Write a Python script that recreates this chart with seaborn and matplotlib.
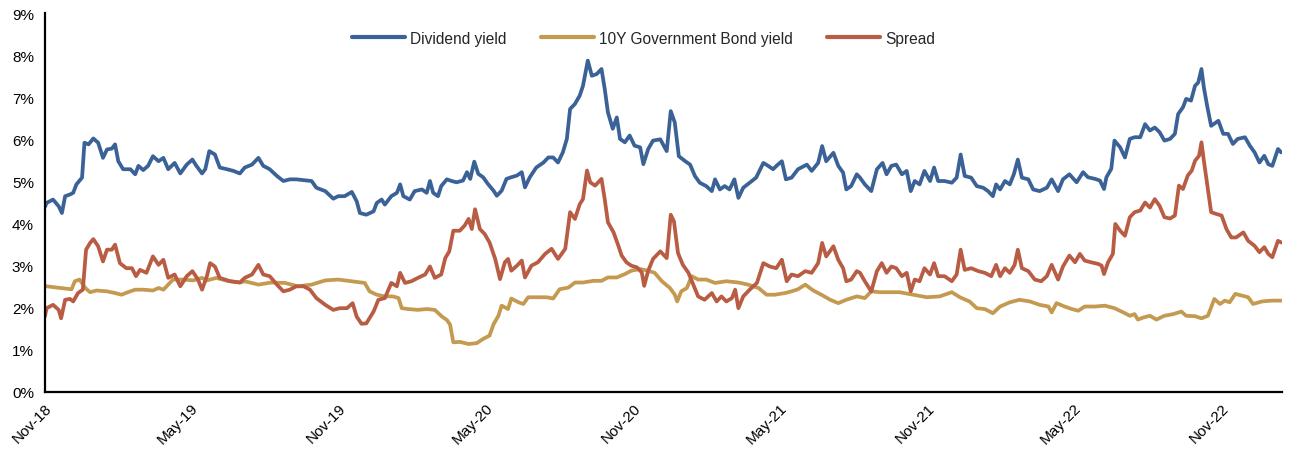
import matplotlib
matplotlib.use("Agg")
import matplotlib.pyplot as plt
import matplotlib.dates as mdates
from matplotlib.ticker import PercentFormatter, MultipleLocator
import numpy as np
import pandas as pd
import seaborn as sns

# ---------------- data (days since 2018-11-01, value in %) ----------------
start_date = "2018-11-01"
end_days = 1536

div_days = [0, 2, 10, 17, 21, 25, 31, 35, 39, 46, 49, 54, 60, 66, 72, 77, 83, 87, 91, 97,
            106, 112, 116, 122, 128, 134, 141, 147, 153, 161, 168, 176, 183, 188, 195, 199, 204, 211, 217, 226,
            234, 242, 248, 257, 265, 271, 279, 288, 296, 304, 312, 321, 331, 337, 348, 358, 364, 372, 381, 387,
            391, 399, 408, 412, 418, 422, 430, 437, 441, 445, 453, 459, 468, 474, 478, 482, 488, 492, 499, 505,
            511, 519, 524, 528, 533, 538, 544, 550, 557, 561, 567, 573, 579, 586, 592, 596, 602, 610, 619, 625,
            631, 637, 643, 648, 652, 658, 664, 668, 672, 674, 679, 685, 691, 695, 699, 705, 710, 714, 720, 726,
            732, 739, 743, 749, 755, 764, 772, 777, 782, 787, 795, 801, 807, 813, 821, 828, 832, 838, 844, 850,
            856, 861, 867, 875, 883, 892, 898, 904, 910, 915, 920, 927, 935, 946, 952, 960, 965, 970, 979, 985,
            991, 995, 1001, 1008, 1012, 1018, 1026, 1033, 1040, 1045, 1051, 1057, 1064, 1070, 1075, 1080, 1086, 1092, 1099, 1104,
            1109, 1117, 1126, 1132, 1137, 1142, 1150, 1157, 1165, 1171, 1177, 1181, 1186, 1192, 1198, 1203, 1208, 1213, 1221, 1227,
            1235, 1244, 1250, 1258, 1264, 1272, 1281, 1289, 1295, 1304, 1310, 1315, 1318, 1324, 1328, 1335, 1341, 1347, 1353, 1360,
            1366, 1372, 1378, 1384, 1390, 1397, 1403, 1407, 1413, 1417, 1423, 1428, 1432, 1436, 1439, 1443, 1448, 1457, 1463, 1469,
            1475, 1481, 1490, 1496, 1502, 1508, 1514, 1519, 1524, 1531, 1535]
div_vals = [4.40, 4.49, 4.57, 4.41, 4.25, 4.65, 4.69, 4.73, 4.93, 5.09, 5.92, 5.88, 6.02, 5.92, 5.56, 5.76, 5.78, 5.88, 5.48, 5.29,
            5.29, 5.17, 5.37, 5.27, 5.37, 5.60, 5.48, 5.56, 5.29, 5.44, 5.19, 5.40, 5.52, 5.37, 5.19, 5.29, 5.72, 5.64, 5.33, 5.29,
            5.25, 5.19, 5.33, 5.40, 5.56, 5.37, 5.29, 5.13, 5.01, 5.05, 5.05, 5.03, 5.01, 4.85, 4.77, 4.59, 4.65, 4.65, 4.75, 4.53,
            4.25, 4.21, 4.29, 4.49, 4.57, 4.45, 4.65, 4.73, 4.93, 4.65, 4.57, 4.77, 4.81, 4.73, 5.01, 4.73, 4.65, 4.89, 5.05, 5.01,
            4.98, 5.02, 5.22, 5.06, 5.47, 5.18, 5.10, 4.94, 4.78, 4.66, 4.78, 5.06, 5.10, 5.14, 5.22, 4.86, 5.10, 5.33, 5.45, 5.57,
            5.57, 5.45, 5.69, 6.01, 6.72, 6.84, 7.04, 7.27, 7.67, 7.87, 7.51, 7.55, 7.67, 7.20, 6.64, 6.25, 6.52, 6.01, 5.93, 6.09,
            5.85, 5.81, 5.41, 5.77, 5.97, 6.00, 5.72, 6.67, 6.40, 5.60, 5.48, 5.40, 5.13, 4.97, 4.89, 4.77, 5.05, 4.81, 4.89, 4.81,
            5.05, 4.61, 4.85, 4.97, 5.09, 5.44, 5.37, 5.29, 5.40, 5.48, 5.05, 5.09, 5.29, 5.40, 5.25, 5.44, 5.84, 5.48, 5.68, 5.37,
            5.21, 4.81, 4.89, 5.17, 5.09, 4.93, 4.77, 5.29, 5.44, 5.17, 5.37, 5.40, 5.17, 5.25, 4.77, 5.01, 4.93, 5.25, 5.01, 5.33,
            5.01, 5.01, 4.97, 5.09, 5.64, 5.13, 5.09, 4.89, 4.85, 4.77, 4.65, 4.93, 4.81, 5.01, 4.93, 5.17, 5.52, 5.09, 5.05, 4.81,
            4.77, 4.85, 5.05, 4.77, 5.05, 5.17, 4.98, 5.22, 5.10, 5.06, 5.02, 4.82, 5.10, 5.30, 5.97, 5.81, 5.57, 6.01, 6.05, 6.05,
            6.36, 6.21, 6.28, 6.17, 5.97, 6.01, 6.13, 6.60, 6.76, 6.96, 6.92, 7.27, 7.35, 7.67, 7.23, 6.80, 6.32, 6.44, 6.13, 6.13,
            5.89, 6.01, 6.05, 5.85, 5.69, 5.45, 5.61, 5.41, 5.37, 5.77, 5.69]

bond_days = [0, 2, 19, 33, 37, 43, 50, 56, 64, 77, 87, 95, 103, 112, 122, 134, 141, 147, 153, 159,
             172, 184, 195, 201, 213, 226, 242, 248, 265, 281, 298, 314, 331, 348, 364, 381, 397, 403, 412, 422,
             432, 439, 443, 451, 463, 474, 484, 493, 499, 503, 507, 515, 526, 536, 544, 552, 557, 563, 567, 575,
             579, 588, 594, 600, 610, 623, 631, 639, 650, 658, 668, 681, 691, 699, 710, 720, 728, 739, 749, 757,
             766, 776, 782, 785, 790, 797, 803, 811, 821, 832, 846, 861, 873, 886, 896, 906, 919, 927, 935, 944,
             954, 964, 975, 985, 995, 1008, 1018, 1026, 1037, 1049, 1061, 1078, 1095, 1111, 1126, 1136, 1148, 1157, 1167, 1177,
             1186, 1198, 1210, 1223, 1235, 1246, 1250, 1256, 1266, 1275, 1283, 1291, 1304, 1316, 1328, 1339, 1347, 1353, 1357, 1364,
             1372, 1380, 1390, 1401, 1411, 1417, 1428, 1436, 1444, 1452, 1459, 1465, 1471, 1478, 1486, 1494, 1500, 1511, 1523, 1535]
bond_vals = [2.52, 2.51, 2.47, 2.44, 2.63, 2.67, 2.47, 2.37, 2.41, 2.39, 2.35, 2.31, 2.37, 2.43, 2.43, 2.41, 2.47, 2.43, 2.55, 2.67,
             2.67, 2.65, 2.71, 2.65, 2.71, 2.64, 2.60, 2.63, 2.55, 2.60, 2.59, 2.51, 2.55, 2.65, 2.67, 2.63, 2.59, 2.39, 2.31, 2.27,
             2.27, 2.23, 1.99, 1.97, 1.95, 1.97, 1.95, 1.79, 1.71, 1.60, 1.18, 1.19, 1.14, 1.16, 1.26, 1.34, 1.61, 1.81, 2.05, 1.97,
             2.22, 2.13, 2.09, 2.25, 2.25, 2.25, 2.22, 2.44, 2.48, 2.60, 2.60, 2.64, 2.64, 2.72, 2.72, 2.80, 2.88, 2.92, 2.88, 2.83,
             2.63, 2.47, 2.31, 2.15, 2.39, 2.47, 2.75, 2.67, 2.67, 2.59, 2.63, 2.60, 2.55, 2.47, 2.31, 2.31, 2.35, 2.39, 2.44, 2.55,
             2.41, 2.31, 2.19, 2.11, 2.19, 2.27, 2.23, 2.39, 2.37, 2.37, 2.37, 2.31, 2.25, 2.27, 2.37, 2.25, 2.15, 1.99, 1.97, 1.87,
             2.03, 2.13, 2.19, 2.15, 2.07, 2.03, 1.89, 2.11, 2.03, 1.97, 1.93, 2.03, 2.03, 2.05, 1.99, 1.89, 1.81, 1.85, 1.72, 1.77,
             1.81, 1.72, 1.81, 1.85, 1.91, 1.81, 1.80, 1.75, 1.81, 2.21, 2.09, 2.17, 2.13, 2.33, 2.29, 2.25, 2.09, 2.15, 2.17, 2.17]

spread_days = [0, 2, 10, 17, 20, 25, 31, 35, 41, 47, 51, 56, 60, 66, 72, 77, 83, 87, 93, 101,
               108, 113, 118, 126, 134, 141, 147, 153, 161, 168, 176, 183, 190, 195, 201, 205, 211, 217, 230, 242,
               248, 257, 265, 271, 279, 288, 296, 304, 312, 321, 329, 337, 348, 358, 366, 375, 382, 387, 393, 399,
               408, 414, 422, 430, 437, 441, 447, 455, 463, 472, 478, 484, 492, 497, 502, 507, 515, 521, 526, 530,
               534, 540, 546, 552, 559, 565, 571, 575, 579, 586, 592, 596, 604, 612, 621, 629, 637, 646, 652, 658,
               664, 668, 673, 677, 683, 691, 695, 699, 706, 712, 716, 722, 728, 735, 741, 744, 749, 755, 764, 772,
               777, 781, 786, 792, 799, 805, 811, 819, 828, 834, 840, 846, 853, 857, 861, 867, 875, 884, 892, 900,
               908, 915, 921, 927, 935, 944, 952, 960, 965, 970, 979, 985, 991, 995, 1001, 1008, 1012, 1018, 1026, 1033,
               1039, 1045, 1051, 1057, 1064, 1070, 1075, 1080, 1086, 1092, 1099, 1104, 1109, 1117, 1126, 1132, 1137, 1142, 1150, 1159,
               1167, 1175, 1181, 1186, 1192, 1198, 1204, 1208, 1213, 1221, 1229, 1237, 1244, 1250, 1258, 1264, 1272, 1279, 1285, 1291,
               1299, 1308, 1312, 1315, 1320, 1326, 1329, 1335, 1341, 1347, 1353, 1360, 1366, 1372, 1378, 1384, 1390, 1397, 1403, 1408,
               1413, 1419, 1424, 1428, 1433, 1436, 1439, 1443, 1448, 1454, 1461, 1467, 1473, 1479, 1488, 1494, 1502, 1508, 1514, 1519,
               1524, 1531, 1535]
spread_vals = [1.80, 1.99, 2.07, 1.95, 1.75, 2.19, 2.21, 2.15, 2.35, 2.43, 3.38, 3.54, 3.63, 3.46, 3.10, 3.38, 3.38, 3.50, 3.06, 2.94,
               2.94, 2.75, 2.90, 2.83, 3.22, 3.02, 3.14, 2.71, 2.79, 2.51, 2.75, 2.87, 2.67, 2.43, 2.75, 3.06, 2.98, 2.71, 2.63, 2.60,
               2.71, 2.79, 3.02, 2.79, 2.75, 2.55, 2.39, 2.43, 2.51, 2.51, 2.43, 2.23, 2.07, 1.95, 1.99, 1.99, 2.11, 1.79, 1.62, 1.63,
               1.91, 2.19, 2.23, 2.59, 2.51, 2.83, 2.59, 2.63, 2.71, 2.79, 2.98, 2.71, 2.79, 3.18, 3.34, 3.83, 3.83, 3.95, 4.11, 3.87,
               4.34, 3.87, 3.75, 3.55, 3.16, 2.68, 3.08, 3.16, 2.88, 3.00, 3.12, 2.72, 3.00, 3.08, 3.28, 3.40, 3.16, 3.40, 4.27, 4.11,
               4.46, 4.58, 5.26, 4.98, 4.90, 5.06, 4.58, 4.03, 3.79, 3.47, 3.24, 3.08, 3.00, 2.96, 2.84, 2.52, 2.88, 3.16, 3.34, 3.18,
               4.21, 4.05, 3.30, 3.02, 2.83, 2.55, 2.27, 2.19, 2.35, 2.15, 2.27, 2.15, 2.23, 2.43, 1.99, 2.27, 2.43, 2.59, 3.06, 2.98,
               2.94, 3.14, 2.63, 2.79, 2.75, 2.87, 2.83, 3.06, 3.54, 3.22, 3.46, 3.14, 2.94, 2.63, 2.67, 2.87, 2.83, 2.63, 2.39, 2.87,
               3.06, 2.83, 2.98, 2.94, 2.75, 2.83, 2.39, 2.67, 2.63, 2.94, 2.79, 3.06, 2.75, 2.75, 2.63, 2.79, 3.38, 2.90, 2.94, 2.87,
               2.83, 2.75, 3.02, 2.75, 2.94, 2.83, 3.02, 3.38, 2.94, 2.87, 2.67, 2.63, 2.75, 3.02, 2.67, 2.98, 3.24, 3.08, 3.28, 3.12,
               3.08, 3.04, 3.00, 2.80, 3.08, 3.28, 3.99, 3.83, 3.71, 4.15, 4.27, 4.31, 4.50, 4.38, 4.58, 4.42, 4.15, 4.12, 4.19, 4.90,
               4.82, 5.14, 5.26, 5.49, 5.61, 5.93, 5.49, 4.94, 4.27, 4.23, 4.19, 3.87, 3.67, 3.67, 3.79, 3.59, 3.47, 3.32, 3.44, 3.28,
               3.20, 3.59, 3.55]

series_names = ["Dividend yield", "10Y Government Bond yield", "Spread"]
series_colors = ["#3A6296", "#C49A50", "#B95C44"]

# ---------------- figure ----------------
sns.set_style("white")
plt.rcParams["font.family"] = ["Liberation Sans", "DejaVu Sans"]

fig = plt.figure(figsize=(12.92, 4.52), dpi=100)
ax = fig.add_axes([45 / 1292, 1 - 393 / 452, (1282 - 45) / 1292, (393 - 14) / 452])

t0 = pd.Timestamp(start_date)
for days, vals, name, col in zip([div_days, bond_days, spread_days],
                                 [div_vals, bond_vals, spread_vals],
                                 series_names, series_colors):
    df = pd.DataFrame({"date": t0 + pd.to_timedelta(days, unit="D"), "value": vals})
    sns.lineplot(data=df, x="date", y="value", ax=ax, color=col, linewidth=2.7,
                 label=name, estimator=None, sort=False)

ax.set_xlim(t0, t0 + pd.Timedelta(days=end_days))
ax.set_ylim(0, 9)
ax.yaxis.set_major_locator(MultipleLocator(1))
ax.yaxis.set_major_formatter(PercentFormatter(xmax=100, decimals=0))
ax.xaxis.set_major_locator(mdates.MonthLocator(bymonth=[5, 11], bymonthday=1))
ax.xaxis.set_major_formatter(mdates.DateFormatter("%b-%y"))
ax.set_xlabel("")
ax.set_ylabel("")

for s in ["top", "right"]:
    ax.spines[s].set_visible(False)
for s in ["left", "bottom"]:
    ax.spines[s].set_color("black")
    ax.spines[s].set_linewidth(1.6)

ax.tick_params(axis="both", direction="in", length=4, width=1.2, color="black",
               labelsize=11, labelcolor="black")
ax.tick_params(axis="y", pad=8)
ax.tick_params(axis="x", pad=6)
for lbl in ax.get_xticklabels():
    lbl.set_rotation(45)
    lbl.set_ha("right")
    lbl.set_rotation_mode("anchor")

leg = ax.legend(loc="center", bbox_to_anchor=(0.484, 0.933), ncol=3, frameon=False,
                fontsize=11.2, handlelength=3.4, handletextpad=0.35, columnspacing=2.2)
for h in leg.get_lines():
    h.set_linewidth(3)

fig.savefig("out.png", dpi=100)
